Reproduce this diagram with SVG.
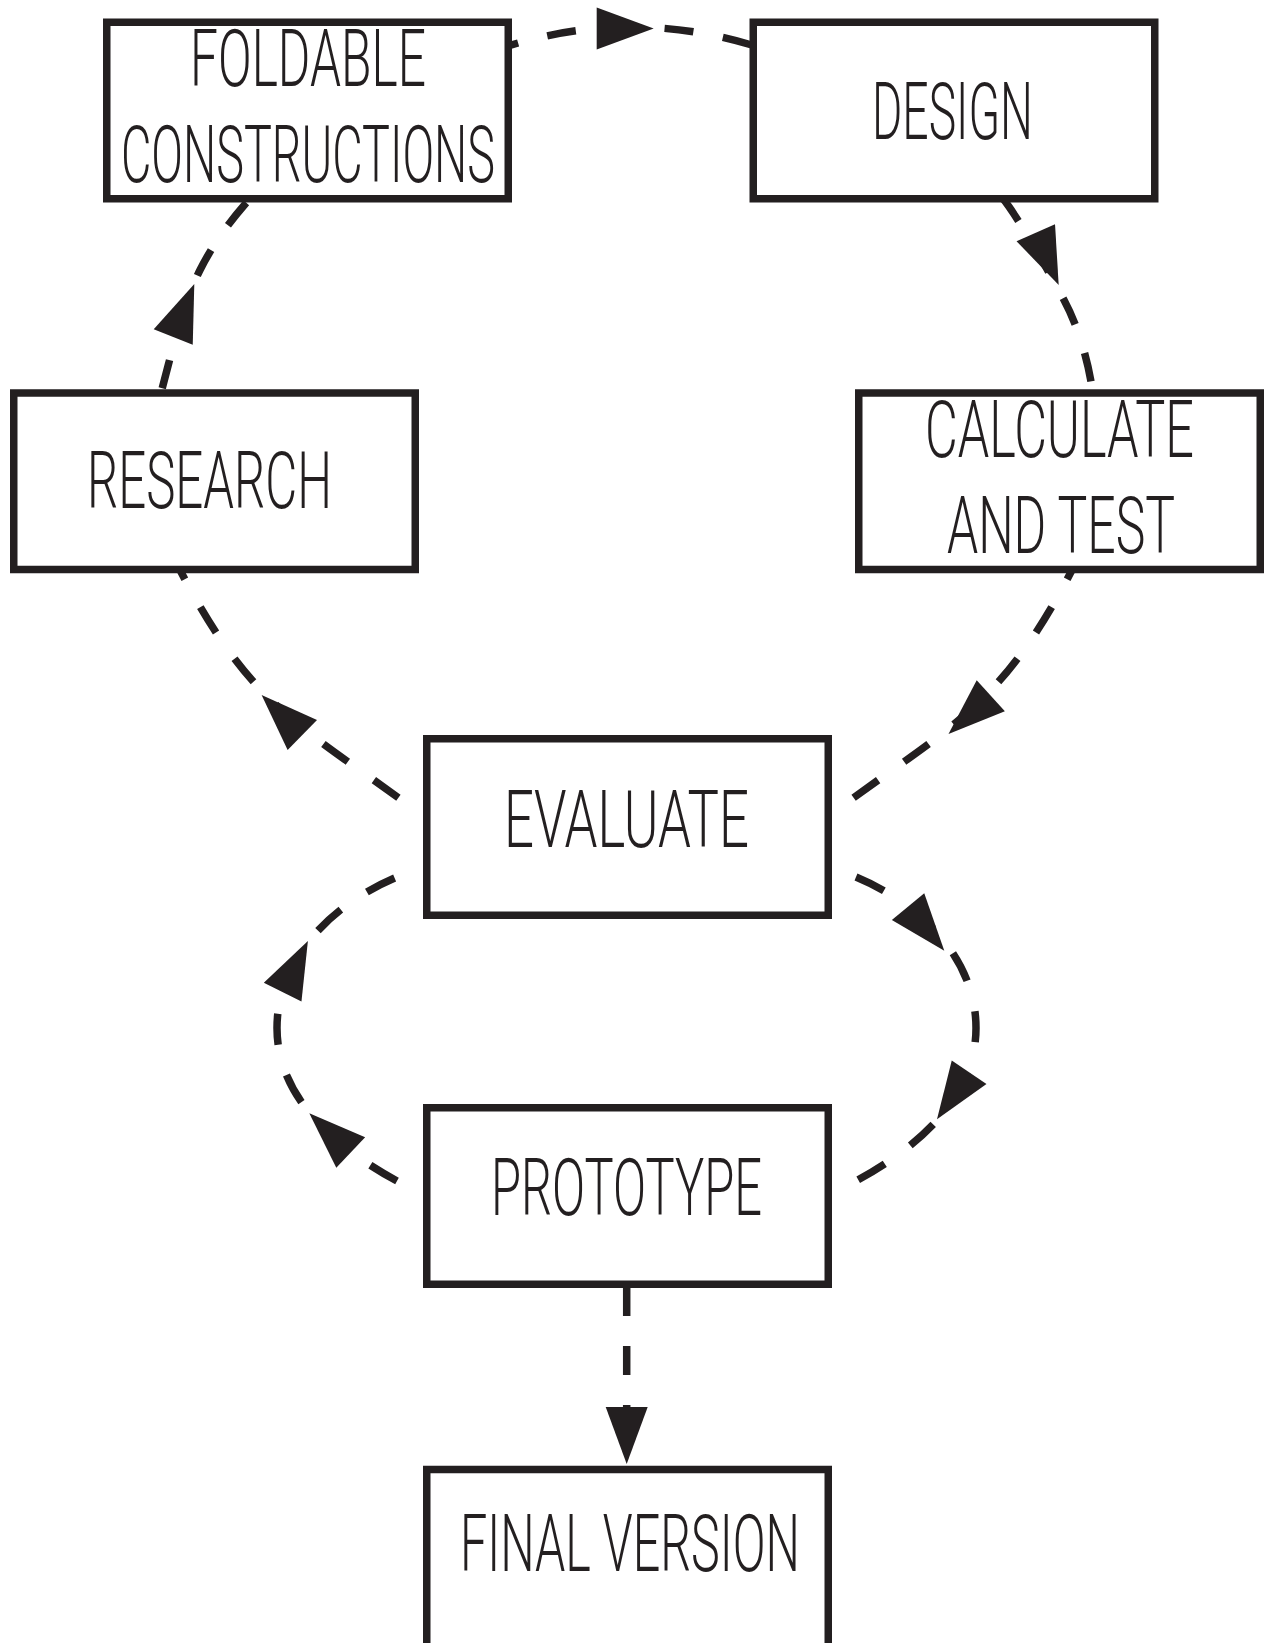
<svg xmlns="http://www.w3.org/2000/svg" width="1273" height="1643" viewBox="0 0 1273 1643">
<style>
.box{fill:#fff;stroke:#231f20;stroke-width:7.5}
.lbl{font-family:Roboto,"Liberation Sans",sans-serif;font-weight:300;font-size:79px;fill:#231f20}
.dash{fill:none;stroke:#231f20;stroke-width:7.5;stroke-dasharray:29 30}
.loop{stroke-dasharray:31 31.5}
.side{stroke-dasharray:30 32}
.ah{fill:#231f20}
</style>
<defs><path id="ah" d="M0,0 L-57,-21 L-57,21 Z"/></defs>
<rect width="1273" height="1643" fill="#fff"/>
<g id="connectors">
<path class="dash side" d="M398.4,797.7 C297.5,724.7 247.7,701 180,570"/>
<path class="dash" style="stroke-dashoffset:52" d="M160.5,395 C172,350 185,300 200,270 C215,240 235,215 255,193"/>
<path class="dash" style="stroke-dashoffset:18.5" d="M508,46 Q631,8 755,46"/>
<path class="dash" style="stroke-dashoffset:56" d="M1000,195 C1018,216 1050,274 1064,300 C1078,326 1089,362 1093,395"/>
<path class="dash side" d="M853.6,797.7 C954.5,724.7 1004.3,701 1072,570"/>
<path class="dash loop" d="M397,1181 C340,1150 277,1100 277,1028 C277,960 330,905 397,877"/>
<path class="dash loop" d="M856,877 C923,905 976,960 976,1028 C976,1100 913,1150 856,1181"/>
<path class="dash" d="M626.7,1287 L626.7,1420"/>
<use href="#ah" class="ah" transform="translate(261.6,695) rotate(224.4)"/>
<use href="#ah" class="ah" transform="translate(194.3,284) rotate(-68.3)"/>
<use href="#ah" class="ah" transform="translate(653.7,28.5)"/>
<use href="#ah" class="ah" transform="translate(1058.7,285) rotate(66.3)"/>
<use href="#ah" class="ah" transform="translate(948.5,734) rotate(137.9)"/>
<use href="#ah" class="ah" transform="translate(307.9,941) rotate(-63.7)"/>
<use href="#ah" class="ah" transform="translate(309.3,1113.3) rotate(223.4)"/>
<use href="#ah" class="ah" transform="translate(944.3,950.7) rotate(50.5)"/>
<use href="#ah" class="ah" transform="translate(937,1119.3) rotate(124.3)"/>
<use href="#ah" class="ah" transform="translate(626.7,1464) rotate(90)"/>
</g>
<g id="foldable">
<rect class="box" x="106.75" y="22.25" width="401.5" height="176.5"/>
<text class="lbl" x="190" y="86" textLength="236" lengthAdjust="spacingAndGlyphs">FOLDABLE</text>
<text class="lbl" x="121" y="181.7" textLength="374" lengthAdjust="spacingAndGlyphs">CONSTRUCTIONS</text>
</g>
<g id="design">
<rect class="box" x="753.25" y="22.25" width="401.5" height="176.5"/>
<text class="lbl" x="872" y="139.3" textLength="161" lengthAdjust="spacingAndGlyphs">DESIGN</text>
</g>
<g id="research">
<rect class="box" x="13.75" y="393" width="401.5" height="176.5"/>
<text class="lbl" x="87" y="508.3" textLength="245" lengthAdjust="spacingAndGlyphs">RESEARCH</text>
</g>
<g id="calculate">
<rect class="box" x="858.75" y="393" width="401.5" height="176.5"/>
<text class="lbl" x="925" y="457.3" textLength="269" lengthAdjust="spacingAndGlyphs">CALCULATE</text>
<text class="lbl" x="947" y="553.3" textLength="228" lengthAdjust="spacingAndGlyphs">AND TEST</text>
</g>
<g id="evaluate">
<rect class="box" x="426.75" y="738.75" width="401.5" height="176.5"/>
<text class="lbl" x="504" y="847.3" textLength="245" lengthAdjust="spacingAndGlyphs">EVALUATE</text>
</g>
<g id="prototype">
<rect class="box" x="426.75" y="1107.75" width="401.5" height="176.5"/>
<text class="lbl" x="491" y="1215" textLength="271" lengthAdjust="spacingAndGlyphs">PROTOTYPE</text>
</g>
<g id="final">
<rect class="box" x="426.75" y="1469.5" width="401.5" height="185"/>
<text class="lbl" x="460" y="1570.7" textLength="340" lengthAdjust="spacingAndGlyphs">FINAL VERSION</text>
</g>
</svg>
